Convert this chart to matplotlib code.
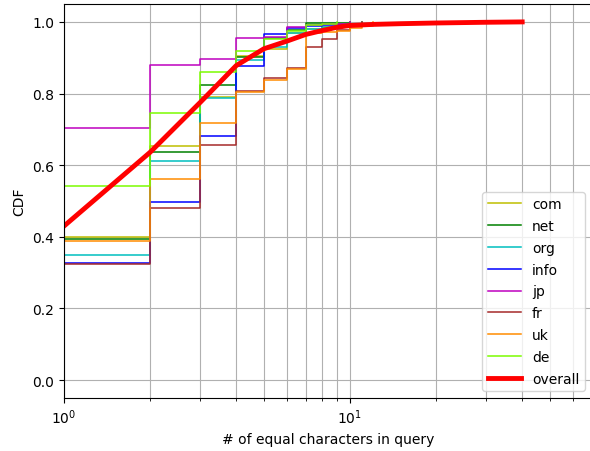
import matplotlib
matplotlib.use("Agg")
import matplotlib.pyplot as plt

labels = ["com", "net", "org", "info", "jp", "fr", "uk", "de"]
colors = ["#bfbf00", "green", "#00bfbf", "blue", "#bf00bf", "brown", "darkorange", "lawngreen"]

com  = [0.399, 0.654, 0.790, 0.905, 0.925, 0.968, 0.980, 0.985, 0.990, 0.995, 1.000]
net  = [0.395, 0.637, 0.825, 0.901, 0.955, 0.977, 0.996, 0.997, 0.998, 1.000]
org  = [0.348, 0.611, 0.787, 0.895, 0.929, 0.970, 0.980, 0.985, 0.990, 0.995, 1.000]
info = [0.326, 0.498, 0.682, 0.877, 0.965, 0.982, 0.988, 0.990, 0.991, 0.992,
        0.992, 0.992, 0.993, 0.993, 0.993, 0.993, 0.993, 0.993, 0.993, 1.000]
jp   = [0.705, 0.881, 0.897, 0.954, 0.958, 0.986, 0.990, 0.993, 0.995, 1.000]
fr   = [0.323, 0.481, 0.657, 0.808, 0.844, 0.872, 0.929, 0.953, 0.978, 0.990, 1.000]
uk   = [0.389, 0.561, 0.717, 0.803, 0.838, 0.869, 0.968, 0.972, 0.974, 0.982, 0.988, 1.000]
de   = [0.543, 0.747, 0.859, 0.918, 0.952, 0.975, 0.990, 0.995, 1.000]
series = [com, net, org, info, jp, fr, uk, de]

overall_x = [1, 2, 3, 4, 5, 6, 7, 8, 9, 10, 12, 15, 20, 30, 40]
overall_y = [0.430, 0.636, 0.776, 0.878, 0.925, 0.946, 0.965, 0.976, 0.985, 0.990,
             0.993, 0.995, 0.997, 0.999, 1.000]

fig = plt.figure(figsize=(5.9, 4.52), dpi=100)
ax = fig.add_axes([64 / 590, 53 / 452, 528 / 590, 394 / 452])

for lab, col, vals in zip(labels, colors, series):
    xs = [1] + list(range(1, len(vals) + 1))
    ys = [0.0] + vals
    ax.step(xs, ys, where="post", color=col, lw=1.1, label=lab)

ax.plot(overall_x, overall_y, color="red", lw=3.5, label="overall")

ax.set_xscale("log")
ax.set_xlim(1, 10 ** (528 / 286))
ax.set_ylim(-0.05, 1.05)
ax.grid(True, which="major", axis="both", color="#b0b0b0", lw=0.8)
ax.grid(True, which="minor", axis="x", color="#b0b0b0", lw=0.8)
ax.set_xlabel("# of equal characters in query")
ax.set_ylabel("CDF")
ax.legend(loc="lower right", handlelength=2.4, labelspacing=0.56)

fig.savefig("out.png", dpi=100)
